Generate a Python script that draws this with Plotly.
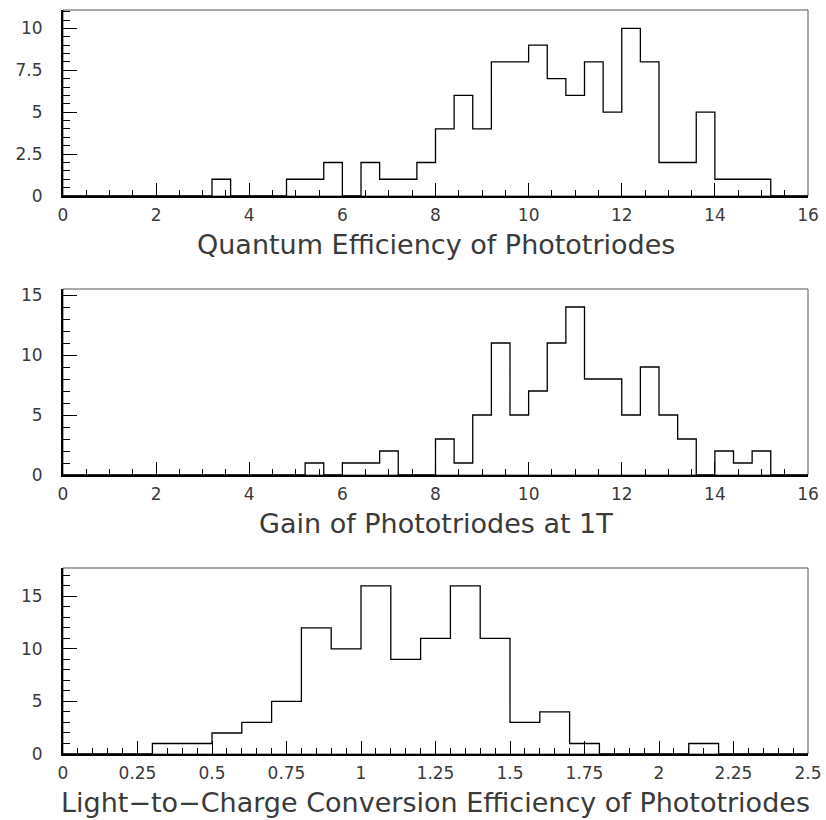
import numpy as np
import plotly.graph_objects as go

# ---- data ----
qe_start, qe_width = 0.0, 0.4
qe_counts = [0, 0, 0, 0, 0, 0, 0, 0, 1, 0,
             0, 0, 1, 1, 2, 0, 2, 1, 1, 2,
             4, 6, 4, 8, 8, 9, 7, 6, 8, 5,
             10, 8, 2, 2, 5, 1, 1, 1, 0, 0]

gain_start, gain_width = 0.0, 0.4
gain_counts = [0, 0, 0, 0, 0, 0, 0, 0, 0, 0,
               0, 0, 0, 1, 0, 1, 1, 2, 0, 0,
               3, 1, 5, 11, 5, 7, 11, 14, 8, 8,
               5, 9, 5, 3, 0, 2, 1, 2, 0, 0]

lcc_start, lcc_width = 0.0, 0.1
lcc_counts = [0, 0, 0, 1, 1, 2, 3, 5, 12, 10,
              16, 9, 11, 16, 11, 3, 4, 1, 0, 0,
              0, 1, 0, 0, 0]

titles = ["Quantum Efficiency of Phototriodes",
          "Gain of Phototriodes at 1T",
          "Light\u2212to\u2212Charge Conversion Efficiency of Phototriodes"]
x_ranges = [[0, 16], [0, 16], [0, 2.5]]
x_dticks = [2, 2, 0.25]
x_minor = [0.5, 0.5, 0.05]
y_ranges = [[0, 11.1], [0, 15.5], [0, 17.7]]
y_dticks = [2.5, 5, 5]
y_minor = [0.5, 1, 1]

W, H = 826, 820
x0p, x1p = 63 / W, 808 / W
frames_px = [(10, 196), (289, 475), (568, 754)]

FONT = "DejaVu Sans"
TXT = "#3a3a3a"
fig = go.Figure()

hists = [(qe_start, qe_width, qe_counts),
         (gain_start, gain_width, gain_counts),
         (lcc_start, lcc_width, lcc_counts)]

for i, (start, width, counts) in enumerate(hists):
    n = len(counts)
    edges = start + width * np.arange(n + 1)
    ys = list(counts) + [0]
    ax = "" if i == 0 else str(i + 1)
    fig.add_trace(go.Scatter(
        x=edges, y=ys, mode="lines", line=dict(shape="hv", color="black", width=1.3),
        xaxis="x" + ax, yaxis="y" + ax, showlegend=False, hoverinfo="skip",
        cliponaxis=False))
    top, bot = frames_px[i]
    dom_y = [1 - bot / H, 1 - top / H]
    xa = dict(domain=[x0p, x1p], range=x_ranges[i], anchor="y" + ax, automargin=False,
              dtick=x_dticks[i], tick0=0, ticks="inside", ticklen=13, tickwidth=1,
              tickcolor="black", showline=True, linewidth=2, linecolor="black",
              showgrid=False, zeroline=False,
              tickfont=dict(family=FONT, size=17, color=TXT),
              ticklabelstandoff=3,
              minor=dict(dtick=x_minor[i], ticks="inside", ticklen=6, tickwidth=1,
                         tickcolor="black", showgrid=False))
    ya = dict(domain=dom_y, range=y_ranges[i], anchor="x" + ax, automargin=False,
              dtick=y_dticks[i], tick0=0, ticks="inside", ticklen=14, tickwidth=1,
              tickcolor="black", showline=True, linewidth=2, linecolor="black",
              showgrid=False, zeroline=False,
              tickfont=dict(family=FONT, size=17, color=TXT),
              ticklabelstandoff=15,
              minor=dict(dtick=y_minor[i], ticks="inside", ticklen=7, tickwidth=1,
                         tickcolor="black", showgrid=False))
    fig.layout["xaxis" + ax] = xa
    fig.layout["yaxis" + ax] = ya
    # thin frame (top/right)
    fig.add_shape(type="rect", xref="x" + ax + " domain", yref="y" + ax + " domain",
                  x0=0, x1=1, y0=0, y1=1, line=dict(color="#555", width=1),
                  layer="below")
    fig.add_annotation(text=titles[i], xref="x" + ax + " domain", yref="y" + ax + " domain",
                       x=0.5, y=0, xanchor="center", yanchor="top", yshift=-31,
                       showarrow=False, font=dict(family=FONT, size=27, color=TXT))

fig.update_layout(width=W, height=H, margin=dict(l=0, r=0, t=0, b=0),
                  paper_bgcolor="white", plot_bgcolor="white")
fig.write_html("out.html")
